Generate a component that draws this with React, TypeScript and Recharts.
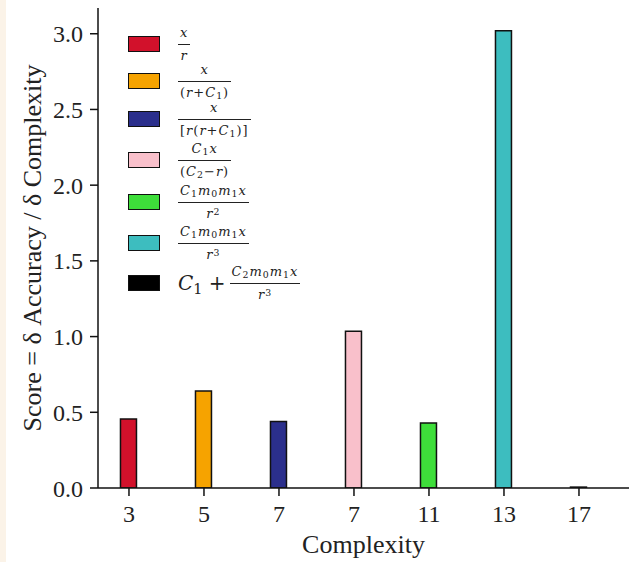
import { BarChart, Bar, XAxis, YAxis, Cell, Label } from "recharts";
import type { ReactNode } from "react";

const complexities = ["3", "5", "7", "7", "11", "13", "17"];
const scores = [0.455, 0.64, 0.44, 1.035, 0.43, 3.02, 0.006];
const barColors = ["#d2112b", "#f6a300", "#2b2f8c", "#f9c0cb", "#3ede3a", "#3dbdbf", "#000000"];
const yTicks = [0, 0.5, 1.0, 1.5, 2.0, 2.5, 3.0];

const data = scores.map((score, i) => ({ pos: i, score }));

const serif = "'Liberation Serif', 'Times New Roman', serif";
const mathFont = "'DejaVu Serif', serif";

// fraction helper for the legend formulas
function Frac({ num, den }: { num: ReactNode; den: ReactNode }) {
  return (
    <span style={{ display: "inline-flex", flexDirection: "column", alignItems: "center", verticalAlign: "middle" }}>
      <span style={{ lineHeight: "14px", padding: "0 2px 4px" }}>{num}</span>
      <span style={{ height: 0, borderTop: "1px solid #222", alignSelf: "stretch" }} />
      <span style={{ lineHeight: "14px", padding: "4px 2px 0" }}>{den}</span>
    </span>
  );
}

const subStyle = { fontSize: "0.72em", position: "relative" as const, top: "0.25em", lineHeight: 0 };
const supStyle = { fontSize: "0.72em", position: "relative" as const, top: "-0.3em", lineHeight: 0 };

const I = ({ children }: { children: ReactNode }) => <i>{children}</i>;
const C = (n: number) => (
  <>
    <i>C</i>
    <span style={subStyle}>{n}</span>
  </>
);
const m = (n: number) => (
  <>
    <i>m</i>
    <span style={subStyle}>{n}</span>
  </>
);
const r = (p: number) => (
  <>
    <i>r</i>
    <span style={supStyle}>{p}</span>
  </>
);

const legendLabels: ReactNode[] = [
  <Frac num={<I>x</I>} den={<I>r</I>} />,
  <Frac num={<I>x</I>} den={<>(<I>r</I>+{C(1)})</>} />,
  <Frac num={<I>x</I>} den={<>[<I>r</I>(<I>r</I>+{C(1)})]</>} />,
  <Frac num={<>{C(1)}<I>x</I></>} den={<>({C(2)}−<I>r</I>)</>} />,
  <Frac num={<>{C(1)}{m(0)}{m(1)}<I>x</I></>} den={r(2)} />,
  <Frac num={<>{C(1)}{m(0)}{m(1)}<I>x</I></>} den={r(3)} />,
  <>
    <span style={{ fontSize: 20, verticalAlign: "middle", letterSpacing: 0, marginRight: 4 }}>
      <i>C</i>
      <span style={subStyle}>1</span> +
    </span>
    <Frac num={<>{C(2)}{m(0)}{m(1)}<I>x</I></>} den={r(3)} />
  </>,
];

// legend row centres (px from top of chart)
const rowCenters = [44, 81, 119, 160, 202, 243, 283];

export default function App() {
  return (
    <div style={{ position: "absolute", left: 0, top: 0, width: 629, height: 562, background: "#fff", fontFamily: serif }}>
      <div style={{ position: "absolute", left: 0, top: 0, width: 6, height: 562, background: "#fbf3e8" }} />
      <BarChart width={629} height={562} data={data} margin={{ top: 8, right: 0, left: 0, bottom: 0 }}>
        <XAxis
          dataKey="pos"
          type="number"
          domain={[-0.413, 6.667]}
          ticks={[0, 1, 2, 3, 4, 5, 6]}
          tickFormatter={(v: number) => complexities[v]}
          allowDataOverflow
          height={74}
          axisLine={{ stroke: "#111", strokeWidth: 1.5 }}
          tickLine={{ stroke: "#111", strokeWidth: 1.5 }}
          tickSize={8}
          tickMargin={9}
          tick={{ fontSize: 24, fill: "#222", fontFamily: serif }}
        >
          <Label value="Complexity" position="insideBottom" offset={9} style={{ fontSize: 26, fill: "#222", fontFamily: serif }} />
        </XAxis>
        <YAxis
          domain={[0, 3.17]}
          ticks={yTicks}
          tickFormatter={(v: number) => v.toFixed(1)}
          allowDataOverflow
          width={98}
          axisLine={{ stroke: "#111", strokeWidth: 1.5 }}
          tickLine={{ stroke: "#111", strokeWidth: 1.5 }}
          tickSize={8}
          tickMargin={7}
          tick={{ fontSize: 24, fill: "#222", fontFamily: serif }}
        >
          <Label
            value="Score = δ Accuracy / δ Complexity"
            angle={-90}
            position="insideLeft"
            offset={32}
            style={{ textAnchor: "middle", fontSize: 26, fill: "#222", fontFamily: serif }}
          />
        </YAxis>
        <Bar dataKey="score" barSize={16} stroke="#111" strokeWidth={1.5} isAnimationActive={false}>
          {data.map((d, i) => (
            <Cell key={i} fill={barColors[i]} />
          ))}
        </Bar>
      </BarChart>
      <div style={{ position: "absolute", left: 128, top: 0, color: "#222", fontSize: 13, fontFamily: mathFont, letterSpacing: 1 }}>
        {legendLabels.map((lab, i) => (
          <div
            key={i}
            style={{ position: "absolute", left: 0, top: rowCenters[i] - 20, display: "flex", alignItems: "center", height: 40 }}
          >
            <span
              style={{
                width: 30,
                height: 14,
                background: barColors[i],
                border: "1.5px solid #111",
                marginRight: 18,
                flexShrink: 0,
              }}
            />
            <span style={{ whiteSpace: "nowrap" }}>{lab}</span>
          </div>
        ))}
      </div>
    </div>
  );
}
